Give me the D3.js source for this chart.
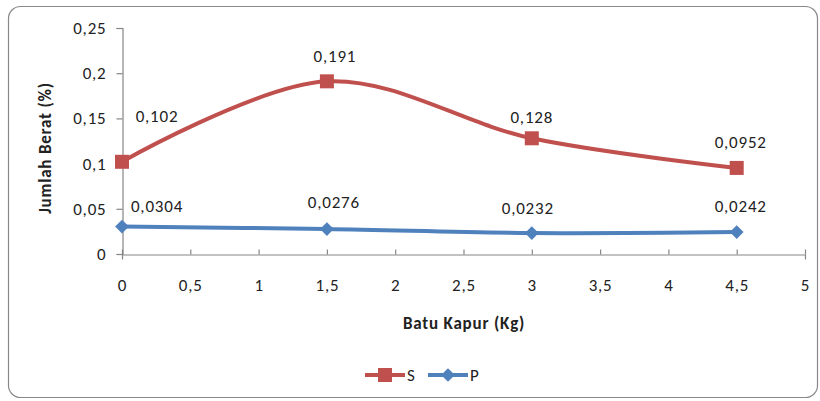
<!DOCTYPE html>
<html>
<head>
<meta charset="utf-8">
<script src="https://cdn.jsdelivr.net/npm/d3@7"></script>
<style>
  html, body { margin: 0; padding: 0; background: #fff; }
  svg { display: block; font-family: Carlito, "Open Sans", "Liberation Sans", sans-serif; }
  text { letter-spacing: 0.8px; }
</style>
</head>
<body>
<svg id="chart" width="820" height="401"></svg>
<script>
// Batu kapur (kg) added, and weight fractions (%) for the two series
const xValues = [0, 1.5, 3, 4.5];
const seriesS = [0.102, 0.191, 0.128, 0.0952];
const seriesP = [0.0304, 0.0276, 0.0232, 0.0242];
const labelsS = ["0,102", "0,191", "0,128", "0,0952"];
const labelsP = ["0,0304", "0,0276", "0,0232", "0,0242"];
const xTicks = [0, 0.5, 1, 1.5, 2, 2.5, 3, 3.5, 4, 4.5, 5];
const yTicks = [0, 0.05, 0.1, 0.15, 0.2, 0.25];
// label offsets (dx, dy) from each point
const offsetS = [[35, -46], [8, -25], [0, -21], [4, -26]];
const offsetP = [[35, -21], [7, -27], [-4, -25], [4, -26]];

const svg = d3.select("#chart");
const comma = v => String(v).replace(".", ",");
const FS = 17;

// outer frame
svg.append("rect")
  .attr("x", 8.5).attr("y", 6.5).attr("width", 809).attr("height", 391)
  .attr("rx", 12).attr("fill", "#fff").attr("stroke", "#888").attr("stroke-width", 1.2);

const x = d3.scaleLinear().domain([0, 5]).range([122, 805]);
const y = d3.scaleLinear().domain([0, 0.25]).range([254, 28]);

// y axis
const yAxis = svg.append("g").attr("transform", "translate(122.5,0)")
  .call(d3.axisLeft(y).tickValues(yTicks).tickFormat(comma).tickSizeOuter(0).tickSize(6).tickPadding(10));
// x axis
const xAxis = svg.append("g").attr("transform", "translate(0,254.5)")
  .call(d3.axisBottom(x).tickValues(xTicks).tickFormat(comma).tickSizeOuter(0).tickSize(5).tickPadding(19));

[yAxis, xAxis].forEach(g => {
  g.select(".domain").attr("stroke", "#868686").attr("stroke-width", 1.2);
  g.selectAll(".tick line").attr("stroke", "#868686").attr("stroke-width", 1.2);
  g.selectAll(".tick text").attr("fill", "#222").style("font-size", FS + "px")
    .style("font-family", "Carlito, 'Open Sans', 'Liberation Sans', sans-serif");
});
// x tick marks sit just above the axis line
xAxis.selectAll(".tick line").attr("y1", 0).attr("y2", -5);

// axis titles
svg.append("text")
  .attr("transform", "translate(51,148) rotate(-90)")
  .attr("text-anchor", "middle").attr("font-weight", "bold").attr("font-size", FS)
  .attr("fill", "#222").text("Jumlah Berat (%)");
svg.append("text")
  .attr("x", 464).attr("y", 329)
  .attr("text-anchor", "middle").attr("font-weight", "bold").attr("font-size", FS)
  .attr("fill", "#222").text("Batu Kapur (Kg)");

const line = d3.line().x(d => x(d[0])).y(d => y(d[1])).curve(d3.curveCatmullRom.alpha(0.5));
const red = "#C0504D", blue = "#4F81BD";

function drawSeries(vals, color, marker, labels, offs) {
  const pts = xValues.map((v, i) => [v, vals[i]]);
  svg.append("path").datum(pts).attr("d", line)
    .attr("fill", "none").attr("stroke", color).attr("stroke-width", 4);
  pts.forEach((p, i) => {
    const cx = x(p[0]), cy = y(p[1]);
    if (marker === "square") {
      svg.append("rect").attr("x", cx - 7).attr("y", cy - 7).attr("width", 14).attr("height", 14).attr("fill", color);
    } else {
      svg.append("path").attr("d", d3.symbol(d3.symbolDiamond2, 120)()).attr("transform", `translate(${cx},${cy})`).attr("fill", color);
    }
    svg.append("text").attr("x", cx + offs[i][0]).attr("y", cy + offs[i][1] + 6)
      .attr("text-anchor", "middle").attr("font-size", FS).attr("fill", "#222").text(labels[i]);
  });
}
drawSeries(seriesS, red, "square", labelsS, offsetS);
drawSeries(seriesP, blue, "diamond", labelsP, offsetP);

// legend
const legY = 375;
const leg = [
  { name: "S", color: red, marker: "square", x0: 365 },
  { name: "P", color: blue, marker: "diamond", x0: 428 }
];
leg.forEach(l => {
  svg.append("line").attr("x1", l.x0).attr("x2", l.x0 + 40).attr("y1", legY).attr("y2", legY)
    .attr("stroke", l.color).attr("stroke-width", 4);
  if (l.marker === "square") {
    svg.append("rect").attr("x", l.x0 + 13).attr("y", legY - 7).attr("width", 14).attr("height", 14).attr("fill", l.color);
  } else {
    svg.append("path").attr("d", d3.symbol(d3.symbolDiamond2, 120)()).attr("transform", `translate(${l.x0 + 20},${legY})`).attr("fill", l.color);
  }
  svg.append("text").attr("x", l.x0 + 42).attr("y", legY + 6).attr("font-size", FS).attr("fill", "#222").text(l.name);
});
</script>
</body>
</html>
